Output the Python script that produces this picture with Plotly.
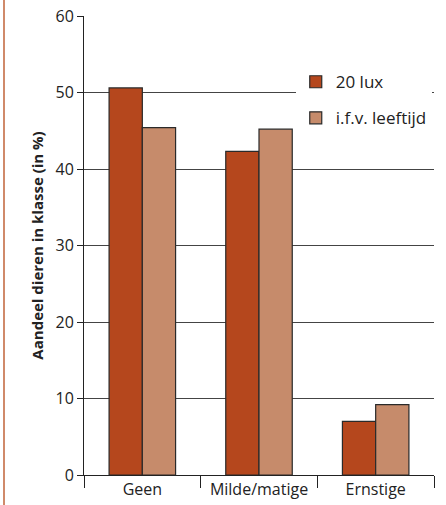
import plotly.graph_objects as go

categories = ["Geen", "Milde/matige", "Ernstige"]
series_names = ["20 lux", "i.f.v. leeftijd"]
lux20 = [50.6, 42.3, 7.0]
leeftijd = [45.4, 45.2, 9.2]
y_ticks = [0, 10, 20, 30, 40, 50, 60]

colors = ["#b5471d", "#c68b6b"]

fig = go.Figure()
for i, (name, vals) in enumerate(zip(series_names, [lux20, leeftijd])):
    fig.add_trace(go.Bar(
        x=categories, y=vals, name=name,
        marker=dict(color=colors[i], line=dict(color="#2a2a2a", width=1.2)),
        legendgroup=name,
    ))

fig.update_layout(
    width=446, height=505,
    margin=dict(l=84, r=12, t=16, b=30, autoexpand=False),
    paper_bgcolor="white", plot_bgcolor="white",
    barmode="group", bargap=0.43, bargroupgap=0,
    font=dict(family="Open Sans, sans-serif", size=16, color="#222"),
    showlegend=True,
    legend=dict(x=0.605, y=0.895, xanchor="left", yanchor="top",
                bgcolor="white", font=dict(size=17, color="#222"),
                traceorder="grouped", tracegroupgap=11,
                itemwidth=30),
    xaxis=dict(
        type="category", tickson="boundaries", range=[-0.5, 2.5],
        showline=True, linecolor="#222", linewidth=1, automargin=False,
        ticks="outside", ticklen=12, tickcolor="#222", tickwidth=1,
        showgrid=False, tickfont=dict(size=16, color="#222"),
    ),
    yaxis=dict(
        range=[0, 60], tickvals=y_ticks, showline=True, linecolor="#222",
        linewidth=1, ticks="outside", ticklen=6, tickcolor="#222",
        showgrid=True, gridcolor="#444", gridwidth=1, automargin=False,
        zeroline=False,
        title=dict(text="<b>Aandeel dieren in klasse (in %)</b>",
                   font=dict(size=15, color="#222"), standoff=8),
        tickfont=dict(size=16, color="#222"),
    ),
    shapes=[dict(type="line", xref="paper", yref="paper",
                 x0=-80/350, x1=-80/350, y0=-30/459, y1=1 + 16/459,
                 line=dict(color="#d08a6a", width=2))],
)

fig.write_html("out.html", config={"displayModeBar": False},
               post_script="document.body.style.margin='0px';")
